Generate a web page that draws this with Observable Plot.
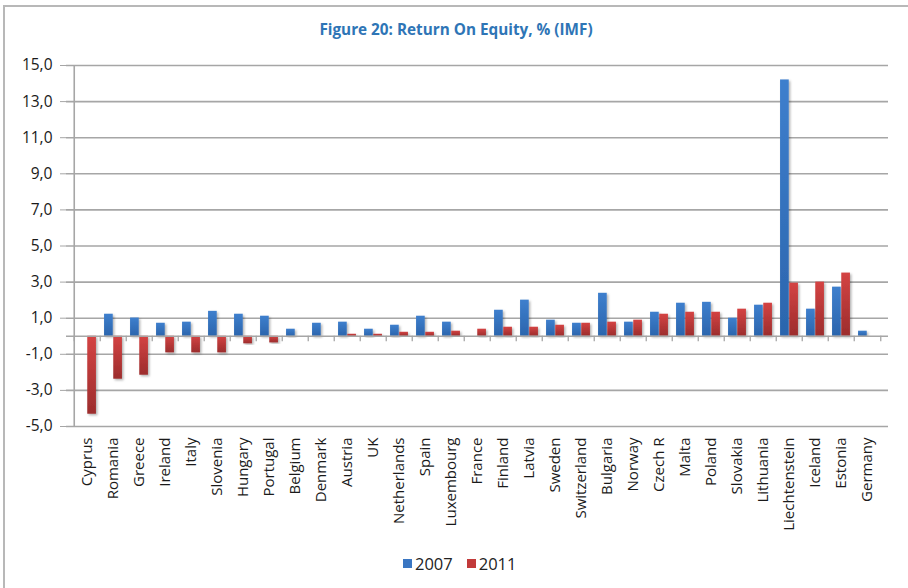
<!DOCTYPE html>
<html>
<head>
<meta charset="utf-8">
<script src="https://cdn.jsdelivr.net/npm/d3@7"></script>
<script src="https://cdn.jsdelivr.net/npm/@observablehq/plot@0.6"></script>
<style>
  html, body { margin: 0; padding: 0; background: #fff; }
  #wrap { position: relative; width: 908px; height: 588px; overflow: hidden; font-family: "Open Sans", sans-serif; }
  #frame { position: absolute; left: 3px; top: 5px; width: 1000px; height: 1000px; border-left: 2px solid #b8b8b8; border-top: 2px solid #b8b8b8; }
  #title { position: absolute; left: 0; width: 912px; top: 19px; text-align: center; font-weight: bold; font-size: 15.3px; color: #2e75b6; }
  #chart { position: absolute; left: 0; top: 0; }
  #legend { position: absolute; top: 552px; left: 403px; font-size: 16.5px; color: #222; display: flex; align-items: center; }
  #legend .sw { display: inline-block; width: 9px; height: 9px; margin-right: 3px; }
  #legend .item { display: flex; align-items: center; margin-right: 14px; }
</style>
</head>
<body>
<div id="wrap">
  <div id="frame"></div>
  <div id="chart"></div>
  <div id="title">Figure 20: Return On Equity, % (IMF)</div>
  <div id="legend">
    <span class="item"><span class="sw" style="background:#3a76c2"></span>2007</span>
    <span class="item"><span class="sw" style="background:#c23a3a"></span>2011</span>
  </div>
</div>
<script>
const countries = ["Cyprus","Romania","Greece","Ireland","Italy","Slovenia","Hungary","Portugal","Belgium","Denmark","Austria","UK","Netherlands","Spain","Luxembourg","France","Finland","Latvia","Sweden","Switzerland","Bulgaria","Norway","Czech R","Malta","Poland","Slovakia","Lithuania","Liechtenstein","Iceland","Estonia","Germany"];
const roe2007 = [null,1.22,1.01,0.72,0.78,1.38,1.22,1.11,0.39,0.72,0.78,0.39,0.61,1.11,0.78,null,1.44,2.0,0.89,0.72,2.38,0.78,1.33,1.83,1.88,1.0,1.72,14.2,1.5,2.72,0.28];
const roe2011 = [-4.32,-2.38,-2.16,-0.92,-0.92,-0.92,-0.42,-0.37,null,null,0.11,0.11,0.22,0.22,0.28,0.39,0.5,0.5,0.61,0.72,0.78,0.89,1.22,1.33,1.33,1.5,1.83,2.94,3.0,3.5,null];
const yTicks = [-5,-3,-1,1,3,5,7,9,11,13,15];

const d07 = countries.map((c,i) => ({country: c, value: roe2007[i]})).filter(d => d.value != null);
const d11 = countries.map((c,i) => ({country: c, value: roe2011[i]})).filter(d => d.value != null);

const W = 908, H = 588;
const mL = 66, mR = 908 - 888, mT = 65, mB = 588 - 426;
const bw = (W - mL - mR) / countries.length;
const barW = 9.2;
const outer = (bw - 2 * barW) / 2;

const boundaries = countries.map(c => ({country: c}));

const chart = Plot.plot({
  width: W,
  height: H,
  marginLeft: mL,
  marginRight: mR,
  marginTop: mT,
  marginBottom: mB,
  style: {fontFamily: "'Open Sans', sans-serif", fontSize: "15px", color: "#1a1a1a", background: "transparent"},
  x: {domain: countries, padding: 0, label: null},
  y: {domain: [-5, 15], label: null},
  marks: [
    Plot.ruleY(yTicks, {stroke: "#a6a6a6", strokeWidth: 1.6}),
    Plot.ruleX([0], {x: () => countries[0], stroke: "#a6a6a6", strokeWidth: 1.6, dx: -bw / 2, y1: -5, y2: 15}),
    Plot.barY(d07, {x: "country", y: "value", fill: "url(#g07)", filter: null, insetLeft: outer, insetRight: outer + barW}),
    Plot.barY(d11, {x: "country", y: "value", fill: "url(#g11)", insetLeft: outer + barW, insetRight: outer}),
    Plot.ruleY([0], {stroke: "#a6a6a6", strokeWidth: 1.6}),
    Plot.ruleX(boundaries, {x: "country", dx: -bw / 2, y1: 0, y2: -0.3, stroke: "#a6a6a6", strokeWidth: 1.3}),
    Plot.ruleX([countries[countries.length - 1]], {x: d => d, dx: bw / 2, y1: 0, y2: -0.3, stroke: "#a6a6a6", strokeWidth: 1.3}),
    Plot.axisY({ticks: yTicks, tickSize: 6, tickPadding: 8, tickFormat: d => d.toFixed(1).replace(".", ","), stroke: "#a6a6a6", fontSize: 15.5, label: null}),
    Plot.axisX({anchor: "bottom", tickSize: 0, tickPadding: 11, tickRotate: -90, fontSize: 15, label: null})
  ]
});

const svg = d3.select(chart);
const defs = svg.insert("defs", ":first-child");
const g1 = defs.append("linearGradient").attr("id", "g07").attr("x1", 0).attr("y1", 0).attr("x2", 0).attr("y2", 1);
g1.append("stop").attr("offset", "0%").attr("stop-color", "#3e7fcd");
g1.append("stop").attr("offset", "100%").attr("stop-color", "#2b65ad");
const g2 = defs.append("linearGradient").attr("id", "g11").attr("x1", 0).attr("y1", 0).attr("x2", 0).attr("y2", 1);
g2.append("stop").attr("offset", "0%").attr("stop-color", "#d44343");
g2.append("stop").attr("offset", "100%").attr("stop-color", "#9c2d2d");
const f = defs.append("filter").attr("id", "shadow").attr("x", "-50%").attr("y", "-20%").attr("width", "200%").attr("height", "140%");
f.append("feDropShadow").attr("dx", 1.5).attr("dy", 1.5).attr("stdDeviation", 1.2).attr("flood-color", "#000").attr("flood-opacity", 0.3);
svg.selectAll("g[aria-label='bar'] rect").attr("filter", "url(#shadow)");

document.getElementById("chart").appendChild(chart);
</script>
</body>
</html>
